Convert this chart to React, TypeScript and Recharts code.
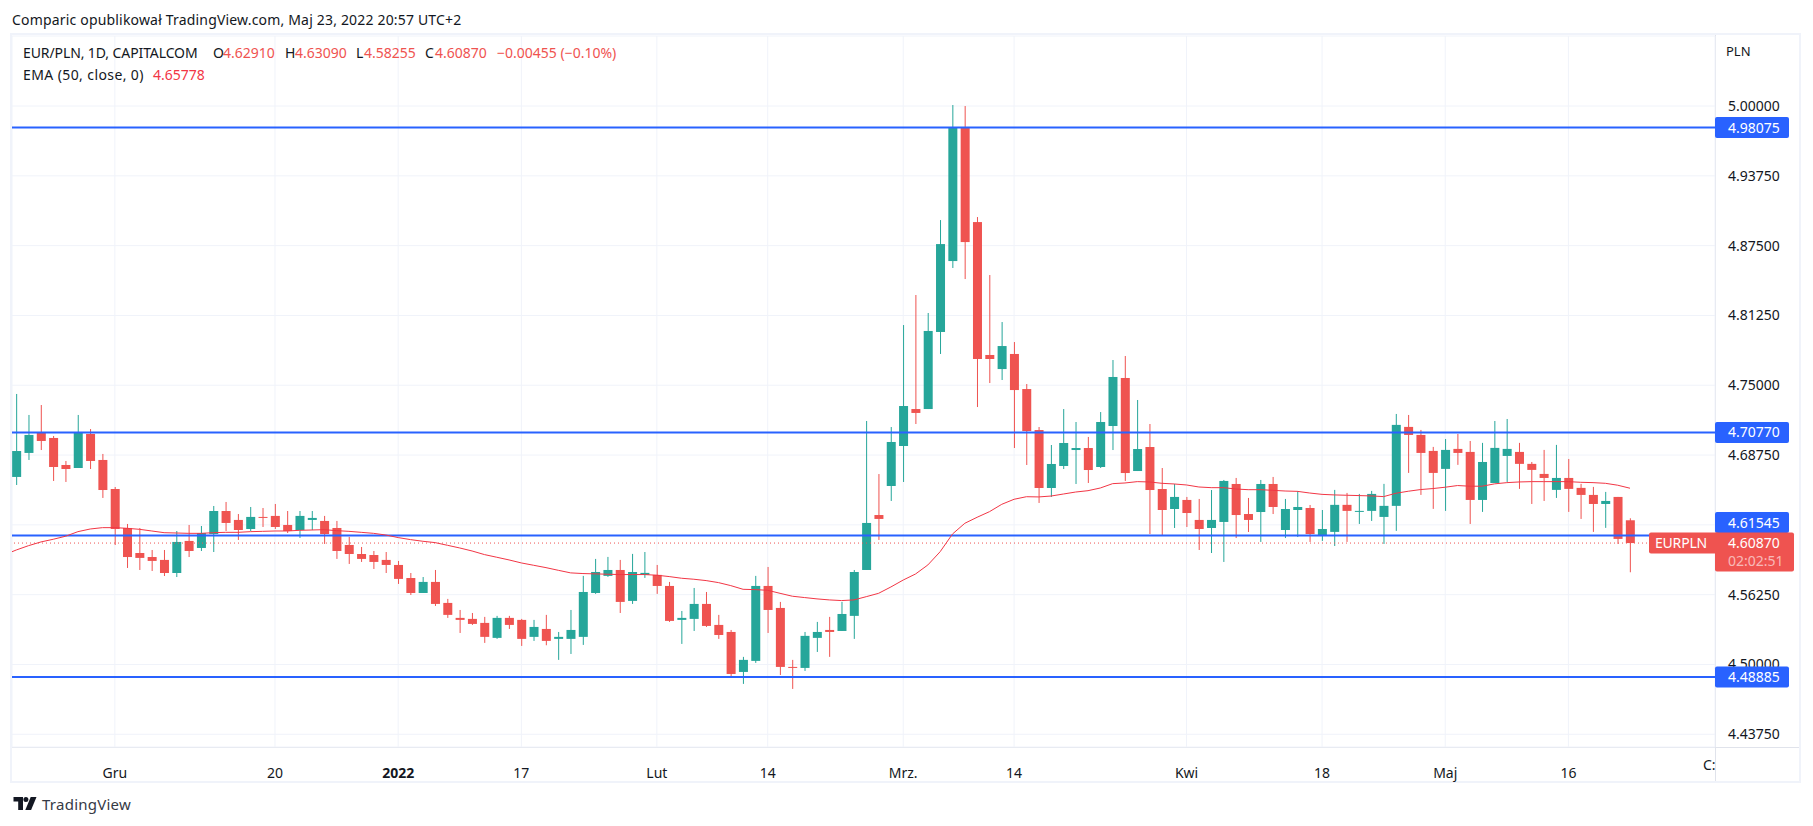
import React from 'react';
import {
  Bar,
  CartesianGrid,
  ComposedChart,
  Line,
  ReferenceLine,
  XAxis,
  YAxis
} from 'recharts';

const FONT = '"Noto Sans", sans-serif';
const GREEN = '#26a69a';
const RED = '#ef5350';
const BLUE = '#2962ff';
const GRID = '#f0f3fa';
const AXIS = '#e0e3eb';
const TEXT = '#131722';

// daily candles, oldest first
const opens = [
  4.6679, 4.6894, 4.7073, 4.7028, 4.6786, 4.6759, 4.7064, 4.6831, 4.6571, 4.6222, 4.5998, 4.5962,
  4.5936, 4.5819, 4.6106, 4.6043, 4.6168, 4.6374, 4.6294, 4.6213, 4.6321, 4.6330, 4.6249, 4.6204,
  4.6294, 4.6285, 4.6222, 4.6070, 4.5989, 4.5980, 4.5936, 4.5891, 4.5774, 4.5640, 4.5739, 4.5551,
  4.5417, 4.5408, 4.5372, 4.5238, 4.5417, 4.5399, 4.5247, 4.5318, 4.5229, 4.5229, 4.5247, 4.5640,
  4.5793, 4.5846, 4.5569, 4.5802, 4.5802, 4.5703, 4.5399, 4.5408, 4.5542, 4.5354, 4.5291, 4.4933,
  4.5032, 4.5703, 4.5506, 4.4978, 4.4969, 4.5238, 4.5309, 4.5300, 4.5435, 4.5846, 4.6338, 4.6598,
  4.6956, 4.7287, 4.7287, 4.7977, 4.8612, 4.9803, 4.8961, 4.7771, 4.7645, 4.7780, 4.7466, 4.7099,
  4.6580, 4.6777, 4.6920, 4.6938, 4.6768, 4.7135, 4.7565, 4.6732, 4.6947, 4.6571, 4.6392, 4.6473,
  4.6294, 4.6222, 4.6276, 4.6616, 4.6347, 4.6365, 4.6616, 4.6204, 4.6383, 4.6401, 4.6159, 4.6187,
  4.6429, 4.6366, 4.6375, 4.6321, 4.6420, 4.7127, 4.7055, 4.6912, 4.6751, 4.6930, 4.6903, 4.6473,
  4.6625, 4.6867, 4.6903, 4.6796, 4.6706, 4.6563, 4.6670, 4.6581, 4.6518, 4.6437, 4.6500, 4.6291
];
const highs = [
  4.7422, 4.7234, 4.7323, 4.7046, 4.6822, 4.7234, 4.7108, 4.6885, 4.6589, 4.6258, 4.6222, 4.6025,
  4.6025, 4.6195, 4.6249, 4.6240, 4.6419, 4.6455, 4.6347, 4.6410, 4.6401, 4.6437, 4.6374, 4.6374,
  4.6374, 4.6330, 4.6285, 4.6142, 4.6052, 4.6016, 4.6007, 4.5927, 4.5819, 4.5783, 4.5846, 4.5587,
  4.5488, 4.5461, 4.5426, 4.5435, 4.5435, 4.5408, 4.5399, 4.5444, 4.5291, 4.5488, 4.5793, 4.5945,
  4.5963, 4.5936, 4.5990, 4.6007, 4.5891, 4.5739, 4.5479, 4.5685, 4.5649, 4.5444, 4.5309, 4.5068,
  4.5793, 4.5873, 4.5560, 4.5041, 4.5291, 4.5381, 4.5426, 4.5560, 4.5846, 4.7180, 4.6705, 4.7126,
  4.8039, 4.8308, 4.8147, 4.8979, 5.0009, 5.0000, 4.9006, 4.8487, 4.8066, 4.7887, 4.7511, 4.7126,
  4.6965, 4.7287, 4.7171, 4.7037, 4.7260, 4.7726, 4.7762, 4.7368, 4.7153, 4.6759, 4.6616, 4.6500,
  4.6482, 4.6562, 4.6652, 4.6670, 4.6491, 4.6652, 4.6679, 4.6482, 4.6553, 4.6428, 4.6383, 4.6563,
  4.6536, 4.6527, 4.6554, 4.6617, 4.7243, 4.7234, 4.7100, 4.6948, 4.7019, 4.7064, 4.7001, 4.6984,
  4.7180, 4.7198, 4.6984, 4.6813, 4.6921, 4.6966, 4.6840, 4.6617, 4.6590, 4.6545, 4.6500, 4.6309
];
const lows = [
  4.6607, 4.6831, 4.6920, 4.6643, 4.6634, 4.6759, 4.6750, 4.6491, 4.6070, 4.5864, 4.5846, 4.5837,
  4.5792, 4.5783, 4.5962, 4.6016, 4.6007, 4.6195, 4.6115, 4.6195, 4.6231, 4.6213, 4.6177, 4.6133,
  4.6204, 4.6079, 4.5945, 4.5900, 4.5918, 4.5855, 4.5819, 4.5721, 4.5622, 4.5640, 4.5524, 4.5417,
  4.5282, 4.5354, 4.5193, 4.5229, 4.5318, 4.5166, 4.5211, 4.5172, 4.5041, 4.5094, 4.5175, 4.5632,
  4.5784, 4.5461, 4.5542, 4.5775, 4.5632, 4.5381, 4.5184, 4.5300, 4.5336, 4.5229, 4.4880, 4.4826,
  4.5014, 4.5282, 4.4906, 4.4781, 4.4942, 4.5112, 4.5068, 4.5300, 4.5229, 4.5846, 4.6115, 4.6464,
  4.6634, 4.7153, 4.7287, 4.7780, 4.8550, 4.8451, 4.7305, 4.7520, 4.7547, 4.6938, 4.6786, 4.6446,
  4.6500, 4.6750, 4.6616, 4.6625, 4.6759, 4.6920, 4.6643, 4.6732, 4.6168, 4.6159, 4.6222, 4.6231,
  4.6025, 4.5998, 4.5918, 4.6132, 4.6186, 4.6097, 4.6347, 4.6132, 4.6141, 4.6097, 4.6106, 4.6061,
  4.6097, 4.6258, 4.6285, 4.6079, 4.6196, 4.6715, 4.6518, 4.6393, 4.6375, 4.6787, 4.6258, 4.6366,
  4.6625, 4.6634, 4.6572, 4.6437, 4.6464, 4.6491, 4.6366, 4.6303, 4.6187, 4.6223, 4.6079, 4.58255
];
const closes = [
  4.6911, 4.7055, 4.7001, 4.6768, 4.6750, 4.7073, 4.6822, 4.6562, 4.6213, 4.5962, 4.5954, 4.5927,
  4.5819, 4.6097, 4.6016, 4.6177, 4.6374, 4.6267, 4.6204, 4.6321, 4.6315, 4.6231, 4.6195, 4.6330,
  4.6312, 4.6168, 4.6016, 4.5989, 4.5945, 4.5918, 4.5891, 4.5766, 4.5640, 4.5739, 4.5542, 4.5444,
  4.5399, 4.5363, 4.5247, 4.5417, 4.5354, 4.5229, 4.5336, 4.5211, 4.5247, 4.5309, 4.5649, 4.5828,
  4.5846, 4.5560, 4.5828, 4.5820, 4.5703, 4.5390, 4.5417, 4.5542, 4.5345, 4.5264, 4.4915, 4.5041,
  4.5703, 4.5488, 4.4978, 4.4969, 4.5256, 4.5291, 4.5291, 4.5452, 4.5828, 4.6267, 4.6303, 4.6992,
  4.7314, 4.7252, 4.7986, 4.8764, 4.9803, 4.8782, 4.7735, 4.7735, 4.7851, 4.7457, 4.7090, 4.6580,
  4.6795, 4.6983, 4.6938, 4.6741, 4.7171, 4.7574, 4.6714, 4.6929, 4.6562, 4.6383, 4.6500, 4.6356,
  4.6213, 4.6294, 4.6643, 4.6338, 4.6294, 4.6616, 4.6410, 4.6392, 4.6410, 4.6168, 4.6213, 4.6429,
  4.6375, 4.6375, 4.6527, 4.6420, 4.7145, 4.7055, 4.6894, 4.6715, 4.6921, 4.6894, 4.6473, 4.6813,
  4.6939, 4.6930, 4.6796, 4.6742, 4.6670, 4.6670, 4.6572, 4.6518, 4.6437, 4.6464, 4.6124, 4.6087
];
// one value before the first candle so the line reaches the left edge
const emaBefore = 4.5980;
const ema = [
  4.6025, 4.6064, 4.6097, 4.6121, 4.6148, 4.6189, 4.6213, 4.6225, 4.6225, 4.6219, 4.6210, 4.6195,
  4.6180, 4.6177, 4.6174, 4.6174, 4.6180, 4.6183, 4.6183, 4.6189, 4.6192, 4.6195, 4.6195, 4.6201,
  4.6204, 4.6207, 4.6198, 4.6192, 4.6183, 4.6174, 4.6159, 4.6136, 4.6118, 4.6103, 4.6091, 4.6067,
  4.6043, 4.6016, 4.5984, 4.5960, 4.5936, 4.5909, 4.5888, 4.5867, 4.5843, 4.5820, 4.5814, 4.5811,
  4.5808, 4.5805, 4.5805, 4.5805, 4.5799, 4.5787, 4.5772, 4.5763, 4.5751, 4.5733, 4.5706, 4.5673,
  4.5670, 4.5664, 4.5637, 4.5611, 4.5599, 4.5587, 4.5578, 4.5572, 4.5578, 4.5607, 4.5637, 4.5694,
  4.5756, 4.5810, 4.5891, 4.6010, 4.6168, 4.6264, 4.6318, 4.6368, 4.6434, 4.6479, 4.6502, 4.6500,
  4.6508, 4.6526, 4.6544, 4.6556, 4.6580, 4.6619, 4.6625, 4.6637, 4.6634, 4.6622, 4.6616, 4.6607,
  4.6589, 4.6583, 4.6583, 4.6571, 4.6565, 4.6565, 4.6559, 4.6553, 4.6550, 4.6535, 4.6523, 4.6518,
  4.6515, 4.6512, 4.6509, 4.6503, 4.6533, 4.6551, 4.6566, 4.6575, 4.6587, 4.6602, 4.6596, 4.6596,
  4.6617, 4.6628, 4.6634, 4.6637, 4.6637, 4.6637, 4.6637, 4.6631, 4.6628, 4.6622, 4.6605, 4.6578
];

const priceTicks = [4.4375, 4.5, 4.5625, 4.625, 4.6875, 4.75, 4.8125, 4.875, 4.9375, 5];
const timeTicks = [8, 21, 31, 41, 52, 61, 72, 81, 95, 106, 116, 126];
const timeLabels = ['Gru', '20', '2022', '17', 'Lut', '14', 'Mrz.', '14', 'Kwi', '18', 'Maj', '16'];
const levels = [
  { value: 4.98075, text: '4.98075', shift: 0 },
  { value: 4.7077, text: '4.70770', shift: 0 },
  { value: 4.61545, text: '4.61545', shift: -13 },
  { value: 4.48885, text: '4.48885', shift: 0 }
];
const lastPrice = 4.6087;
const priceDomain = [4.4261, 5.0627];
const timeDomain = [-0.35, 137.9];

const rows: any[] = [{ i: -1, ema: emaBefore }];
closes.forEach((close, i) => {
  rows.push({
    i,
    open: opens[i],
    high: highs[i],
    low: lows[i],
    close,
    range: [lows[i], highs[i]],
    ema: ema[i]
  });
});

function Candle(props: any) {
  const { x, y, width, height, payload } = props;
  if (!payload || payload.high === undefined || !height) return null;
  const top = Math.min(y, y + height);
  const perUnit = Math.abs(height) / (payload.high - payload.low);
  const color = payload.close >= payload.open ? GREEN : RED;
  const cx = x + width / 2;
  const bodyTop = top + (payload.high - Math.max(payload.open, payload.close)) * perUnit;
  const bodyH = Math.abs(payload.open - payload.close) * perUnit;
  return (
    <g>
      <rect x={cx - 0.5} y={top} width={1} height={Math.abs(height)} fill={color} />
      <rect x={cx - 4.5} y={bodyTop} width={9} height={Math.max(bodyH, 1)} fill={color} />
    </g>
  );
}

function PriceTag({ viewBox, text, shift }: any) {
  const x = viewBox.x + viewBox.width;
  const y = viewBox.y + shift;
  return (
    <g>
      <rect x={x} y={y - 10.5} width={74} height={21} rx={2} fill={BLUE} />
      <text x={x + 13} y={y + 5} fontSize={14} fill="#fff" fontFamily={FONT}>{text}</text>
    </g>
  );
}

function LastPriceTag({ viewBox }: any) {
  const x = viewBox.x + viewBox.width;
  const y = viewBox.y;
  return (
    <g>
      <rect x={x - 66} y={y - 10.5} width={70} height={21} rx={2} fill={RED} />
      <rect x={x} y={y - 10.5} width={79} height={39} rx={2} fill={RED} />
      <text x={x - 60} y={y + 5} fontSize={14} letterSpacing={-0.2} fill="#fff" fontFamily={FONT}>EURPLN</text>
      <text x={x + 13} y={y + 5} fontSize={14} fill="#fff" fontFamily={FONT}>4.60870</text>
      <text x={x + 13} y={y + 23} fontSize={14} fill="#fff" fillOpacity={0.6} fontFamily={FONT}>02:02:51</text>
    </g>
  );
}

function TimeTick({ x, y, payload }: any) {
  const label = timeLabels[timeTicks.indexOf(payload.value)];
  return (
    <text
      x={x}
      y={y + 23}
      textAnchor="middle"
      fontSize={14}
      fontFamily={FONT}
      fontWeight={label === '2022' ? 700 : 400}
      fill={TEXT}
    >
      {label}
    </text>
  );
}

const at = (left: number, top: number, extra: any = {}): React.CSSProperties => ({
  position: 'absolute',
  left,
  top,
  fontFamily: FONT,
  fontSize: 14,
  lineHeight: '18px',
  color: TEXT,
  whiteSpace: 'nowrap',
  ...extra
});
const legendValue = { color: RED };

export default function App() {
  return (
    <div style={{ position: 'absolute', left: 0, top: 0, width: 1813, height: 826, background: '#fff', overflow: 'hidden' }}>
      <div style={at(12, 11, { letterSpacing: 0.18 })}>Comparic opublikował TradingView.com, Maj 23, 2022 20:57 UTC+2</div>

      {/* frame around chart and scales */}
      <div style={{ position: 'absolute', left: 10, top: 33, width: 1791, height: 750, boxSizing: 'border-box', border: `2px solid ${GRID}` }} />
      <div style={{ position: 'absolute', left: 1715, top: 35, width: 1, height: 746, background: AXIS }} />
      <div style={{ position: 'absolute', left: 12, top: 747, width: 1787, height: 1, background: AXIS }} />

      <div style={{ position: 'absolute', left: 0, top: 0 }}>
        <ComposedChart
          width={1813}
          height={826}
          data={rows}
          margin={{ top: 36, right: 0, bottom: 45, left: 12 }}
        >
          <CartesianGrid stroke={GRID} strokeWidth={1} />
          <XAxis
            dataKey="i"
            type="number"
            domain={timeDomain}
            allowDataOverflow
            ticks={timeTicks}
            interval={0}
            height={34}
            tickLine={false}
            axisLine={false}
            tick={<TimeTick />}
          />
          <YAxis
            orientation="right"
            type="number"
            domain={priceDomain}
            allowDataOverflow
            ticks={priceTicks}
            interval={0}
            width={98}
            tickSize={0}
            tickMargin={13}
            tickLine={false}
            axisLine={false}
            tick={{ fontSize: 14, fill: TEXT, fontFamily: FONT }}
            tickFormatter={(v: number) => (v === 4.625 ? '' : v.toFixed(5))}
          />
          {levels.map(l => (
            <ReferenceLine key={l.text} y={l.value} stroke={BLUE} strokeWidth={2} />
          ))}
          <ReferenceLine y={lastPrice} stroke={RED} strokeWidth={1} strokeDasharray="1 3" />
          <Line
            dataKey="ema"
            stroke="#f23645"
            strokeWidth={1}
            dot={false}
            activeDot={false}
            isAnimationActive={false}
          />
          <Bar dataKey="range" barSize={9} shape={<Candle />} isAnimationActive={false} />
        </ComposedChart>
      </div>

      {/* price tags sit above the scale's tick labels, so they get their own layer */}
      <div style={{ position: 'absolute', left: 0, top: 0 }}>
        <ComposedChart
          width={1813}
          height={826}
          data={rows}
          margin={{ top: 36, right: 98, bottom: 79, left: 12 }}
        >
          <XAxis dataKey="i" type="number" domain={timeDomain} allowDataOverflow hide />
          <YAxis type="number" domain={priceDomain} allowDataOverflow hide />
          {levels.map(l => (
            <ReferenceLine
              key={l.text}
              y={l.value}
              stroke="none"
              label={<PriceTag text={l.text} shift={l.shift} />}
            />
          ))}
          <ReferenceLine y={lastPrice} stroke="none" label={<LastPriceTag />} />
        </ComposedChart>
      </div>

      {/* legend */}
      <div style={at(23, 44, { letterSpacing: -0.1 })}>EUR/PLN, 1D, CAPITALCOM</div>
      <div style={at(213, 44)}>O</div>
      <div style={at(223, 44, legendValue)}>4.62910</div>
      <div style={at(285, 44)}>H</div>
      <div style={at(295, 44, legendValue)}>4.63090</div>
      <div style={at(356, 44)}>L</div>
      <div style={at(364, 44, legendValue)}>4.58255</div>
      <div style={at(425, 44)}>C</div>
      <div style={at(435, 44, legendValue)}>4.60870</div>
      <div style={at(497, 44, legendValue)}>−0.00455 (−0.10%)</div>
      <div style={at(23, 66, { letterSpacing: 0.4 })}>EMA (50, close, 0)</div>
      <div style={at(153, 66, { ...legendValue, color: '#f23645' })}>4.65778</div>

      <div style={at(1726, 42, { fontSize: 13, color: '#131722' })}>PLN</div>
      <div style={at(1703, 756)}>C:</div>

      {/* footer logo */}
      <svg style={{ position: 'absolute', left: 13, top: 797 }} width={24} height={13} viewBox="0 0 23 13">
        <path d="M0 0h9.5v13H4.7V4.6H0z" fill={TEXT} />
        <circle cx={12.4} cy={2.5} r={2.5} fill={TEXT} />
        <path d="M17.2 0H23l-5.4 13h-5.8z" fill={TEXT} />
      </svg>
      <div style={at(42, 795, { fontSize: 15, letterSpacing: 0.25, color: '#363a45' })}>TradingView</div>
    </div>
  );
}
